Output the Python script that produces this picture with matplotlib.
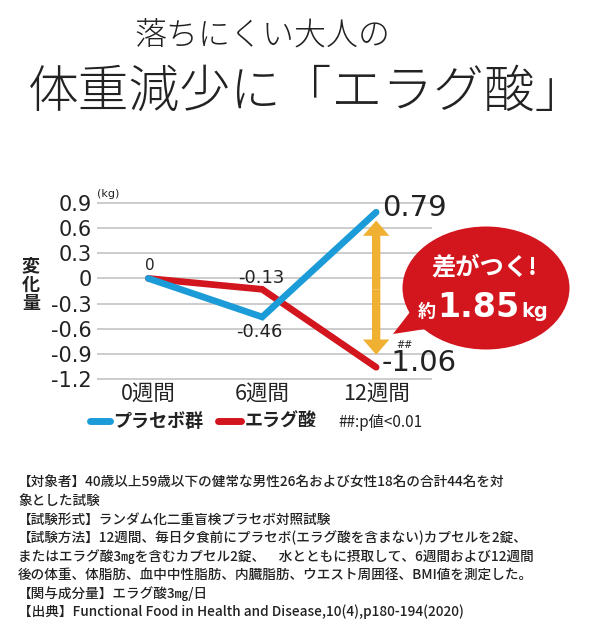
import numpy as np
import matplotlib
matplotlib.use("Agg")
import matplotlib.pyplot as plt
from matplotlib import patches as mpatches
from matplotlib.lines import Line2D

JP = ["Noto Sans CJK JP", "DejaVu Sans"]
NUM = ["DejaVu Sans"]

# データ
weeks = ["0週間", "6週間", "12週間"]
placebo = [0, -0.46, 0.79]
ellagic = [0, -0.13, -1.06]
yticks = [0.9, 0.6, 0.3, 0, -0.3, -0.6, -0.9, -1.2]
ytick_labels = ["0.9", "0.6", "0.3", "0", "-0.3", "-0.6", "-0.9", "-1.2"]
diff_label = "1.85"

title1 = "落ちにくい大人の"
title2 = "体重減少に「エラグ酸」"
notes = [
    "【対象者】40歳以上59歳以下の健常な男性26名および女性18名の合計44名を対",
    "象とした試験",
    "【試験形式】ランダム化二重盲検プラセボ対照試験",
    "【試験方法】12週間、毎日夕食前にプラセボ(エラグ酸を含まない)カプセルを2錠、",
    "またはエラグ酸3㎎を含むカプセル2錠、　水とともに摂取して、6週間および12週間",
    "後の体重、体脂肪、血中中性脂肪、内臓脂肪、ウエスト周囲径、BMI値を測定した。",
    "【関与成分量】エラグ酸3㎎/日",
    "【出典】Functional Food in Health and Disease,10(4),p180-194(2020)",
]

BLUE = "#1b9bd7"
RED = "#d3151d"
ORANGE = "#f0b132"
DARK = "#222222"

W, H = 589, 637
fig = plt.figure(figsize=(W / 100, H / 100), dpi=100)

# メインのグラフ
ax = fig.add_axes([97 / W, 1 - 383.2 / H, 335 / W, 184.4 / H])
x = np.arange(len(weeks))
ax.plot(x, ellagic, color=RED, lw=4.8, solid_capstyle="round", solid_joinstyle="miter", zorder=3, clip_on=False)
ax.plot(x, placebo, color=BLUE, lw=4.8, solid_capstyle="round", solid_joinstyle="miter", zorder=4, clip_on=False)

ax.set_xlim(-0.45, 2.49)
ax.set_ylim(-1.25, 0.95)
ax.set_yticks(yticks)
ax.set_yticklabels(ytick_labels, family=NUM, fontsize=15, color=DARK)
ax.set_xticks(x)
ax.set_xticklabels(weeks, family=JP, fontsize=15.5, color=DARK)
ax.tick_params(length=0, pad=4)
ax.tick_params(axis="x", pad=0)
ax.yaxis.grid(True, color="#c4c4c4", lw=1.2)
ax.set_axisbelow(True)
for s in ax.spines.values():
    s.set_visible(False)

# 値ラベル
ax.annotate("0", (x[0], ellagic[0]), xytext=(1, 4), textcoords="offset points",
            ha="center", va="bottom", fontsize=11, family=NUM, color=DARK)
ax.annotate("%g" % ellagic[1], (x[1], ellagic[1]), xytext=(-1, 2), textcoords="offset points",
            ha="center", va="bottom", fontsize=13, family=NUM, color=DARK)
ax.annotate("%g" % placebo[1], (x[1], placebo[1]), xytext=(-2, -4), textcoords="offset points",
            ha="center", va="top", fontsize=13, family=NUM, color=DARK)
ax.annotate("%.2f" % placebo[2], (x[2], placebo[2]), xytext=(4, 3), textcoords="offset points",
            ha="left", va="center", fontsize=21, family=NUM, color=DARK)
ax.annotate("%.2f" % ellagic[2], (x[2], ellagic[2]), xytext=(4, 3), textcoords="offset points",
            ha="left", va="center", fontsize=21, family=NUM, color=DARK)
ax.annotate("##", (x[2], ellagic[2]), xytext=(20, 16), textcoords="offset points",
            ha="center", va="center", fontsize=7, family=NUM, color=DARK)

# 差の矢印
mid = (placebo[2] + ellagic[2]) / 2
style = "simple,head_length=11,head_width=19,tail_width=6"
for end, shr in [(placebo[2], 6), (ellagic[2], 9)]:
    ax.add_patch(mpatches.FancyArrowPatch((x[2], mid), (x[2], end), arrowstyle=style,
                                          mutation_scale=1, shrinkA=0, shrinkB=shr,
                                          color=ORANGE, lw=0, zorder=5, clip_on=False))

# 重ね書き用（ピクセル座標）
ov = fig.add_axes([0, 0, 1, 1], zorder=2)
ov.set_xlim(0, W)
ov.set_ylim(H, 0)
ov.axis("off")

ov.text(262, 36, title1, ha="center", va="center", fontsize=23, family=JP, color=DARK, weight="light")
ov.text(28, 92, title2, ha="left", va="center", fontsize=36.5, family=JP, color=DARK, weight="light")

ov.text(97, 194, "(kg)", ha="left", va="center", fontsize=8, family=NUM, color=DARK)
ov.text(31, 285, "変\n化\n量", ha="center", va="center", fontsize=13, family=JP,
        color=DARK, weight="bold", linespacing=1.0)

# 吹き出し
ov.add_patch(mpatches.Ellipse((486, 288), 167, 123, color=RED, lw=0))
ov.add_patch(mpatches.Polygon([(410, 312), (393, 334), (432, 328)], closed=True, color=RED, lw=0))
ov.text(484, 268, "差がつく!", ha="center", va="center", fontsize=17.5, family=JP, color="white", weight="bold")
ov.text(436, 317, "約", ha="right", va="baseline", fontsize=13, family=JP, color="white", weight="bold")
ov.text(437, 317, diff_label, ha="left", va="baseline", fontsize=24, family=NUM, color="white", weight="bold")
ov.text(521, 317, "kg", ha="left", va="baseline", fontsize=14, family=NUM, color="white", weight="bold")

# 凡例
ov.add_line(Line2D([90, 110], [421, 421], color=BLUE, lw=5, solid_capstyle="round"))
ov.text(113, 421, "プラセボ群", ha="left", va="center", fontsize=13, family=JP, color=DARK, weight="bold")
ov.add_line(Line2D([218, 241], [421, 421], color=RED, lw=5, solid_capstyle="round"))
ov.text(245, 421, "エラグ酸", ha="left", va="center", fontsize=13, family=JP, color=DARK, weight="bold")
ov.text(338, 422, "##:p値<0.01", ha="left", va="center", fontsize=11, family=JP, color=DARK)

# 注記
for i, line in enumerate(notes):
    ov.text(18, 483 + i * 18.4, line, ha="left", va="center", fontsize=9.8, family=JP,
            color=DARK, weight="medium")

fig.savefig("out.png", dpi=100, facecolor="white")
